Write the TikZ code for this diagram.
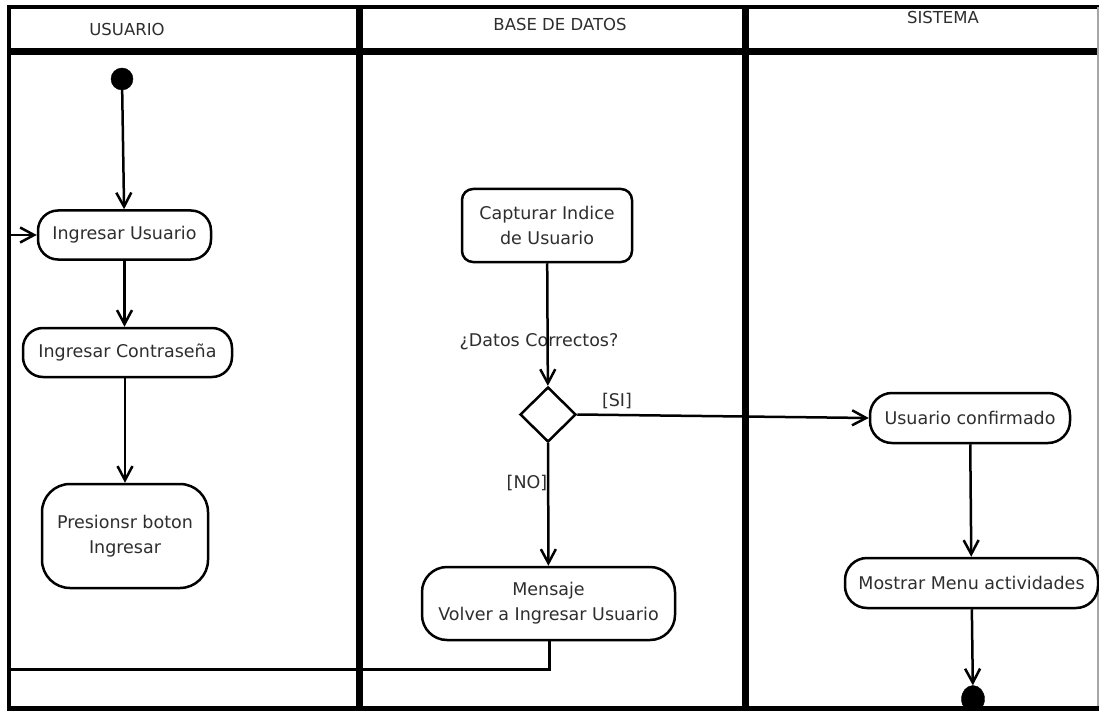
\documentclass[tikz,border=0pt]{standalone}
\usepackage{fontspec}
\setmainfont{DejaVu Sans}
\usetikzlibrary{arrows.meta,shapes.geometric}

\definecolor{inkgray}{HTML}{2E2E2E}

\tikzset{
  frameline/.style={line width=#1, black},
  act/.style={draw, line width=2.5pt, rounded corners=#1, inner sep=0pt,
              align=center, text=inkgray,
              font=\fontsize{17.5}{25}\selectfont},
  lanehead/.style={text=inkgray, font=\fontsize{16.5}{20}\selectfont, inner sep=0pt},
  guard/.style={text=inkgray, font=\fontsize{17.5}{22}\selectfont, inner sep=0pt},
  flow/.style={line width=2.5pt, -{Straight Barb[length=14pt,width=15pt]}},
  plainflow/.style={line width=2.5pt},
  startdot/.style={circle, fill=black, draw=black, minimum size=22pt, inner sep=0pt},
  enddot/.style={ellipse, fill=black, draw=black, minimum width=23pt, minimum height=27pt, inner sep=0pt},
  choice/.style={diamond, draw, line width=2.5pt, minimum width=56pt,
                 minimum height=55pt, inner sep=0pt}
}

\begin{document}
\begin{tikzpicture}[x=1pt,y=-1pt]
  \useasboundingbox (0,0) rectangle (1099,711);
  \fill[white] (0,0) rectangle (1099,711);

  % swimlane frame
  \draw[frameline=3.5pt] (7,7) -- (1099,7);
  \draw[frameline=7pt] (7,52) -- (1099,52);
  \draw[frameline=4pt] (9,5) -- (9,711);
  \draw[frameline=7pt] (359.5,5) -- (359.5,711);
  \draw[frameline=7pt] (745,5) -- (745,711);
  \draw[line width=1.5pt, gray!70] (1098,7) -- (1098,711);

  % lane titles
  \node[lanehead] (hu) at (127,29) {USUARIO};
  \node[lanehead] (hb) at (560,24) {BASE DE DATOS};
  \node[lanehead] (hs) at (943,17) {SISTEMA};

  % USUARIO lane
  \node[startdot] (start) at (122,79) {};
  \node[act=20pt, minimum width=173pt, minimum height=49pt] (iu) at (124.5,235) {Ingresar Usuario};
  \node[act=20pt, minimum width=209pt, minimum height=49pt] (ic) at (127.5,352.5) {Ingresar Contraseña};
  \node[act=28pt, minimum width=166pt, minimum height=104pt] (pb) at (125,536) {Presionsr boton\\Ingresar};

  % BASE DE DATOS lane
  \node[act=11pt, minimum width=170pt, minimum height=73pt] (cap) at (547,225.5) {Capturar Indice\\de Usuario};
  \node[guard] (dc) at (539,342) {¿Datos Correctos?};
  \node[choice] (dia) at (548,414.5) {};
  \node[guard] (si) at (617,401) {[SI]};
  \node[guard] (no) at (527,483) {[NO]};
  \node[act=25pt, minimum width=253pt, minimum height=73pt] (msg) at (548.5,603.5) {Mensaje\\Volver a Ingresar Usuario};

  % SISTEMA lane
  \node[act=22pt, minimum width=200pt, minimum height=50pt] (uc) at (970,418) {Usuario confirmado};
  \node[act=22pt, minimum width=253pt, minimum height=50pt] (mm) at (971.5,583) {Mostrar Menu actividades};
  \node[enddot] (end) at (973,699) {};

  % bottom edge of the lanes, over the final node
  \draw[frameline=5pt] (7,708.5) -- (1099,708.5);

  % control flow
  \draw[flow] (start) -- (iu);
  \draw[flow] (iu.south) -- (iu.south |- ic.north);
  \draw[flow] (ic.south -| pb.north) -- (pb.north);
  \draw[flow] (cap) -- (dia);
  \draw[flow] (dia) -- (msg);
  \draw[flow] (dia.east) -- (uc.west);
  \draw[flow] (uc) -- (mm);
  \draw[flow] (mm) -- (end);

  % retry loop back to the user login
  \coordinate (loopr) at (549.5,669.5);
  \coordinate (loopl) at (9,669.5);
  \draw[plainflow] (msg.south -| loopr) -- (loopr) -- (loopl);
  \draw[flow] (loopl) |- (iu.west);
\end{tikzpicture}
\end{document}
